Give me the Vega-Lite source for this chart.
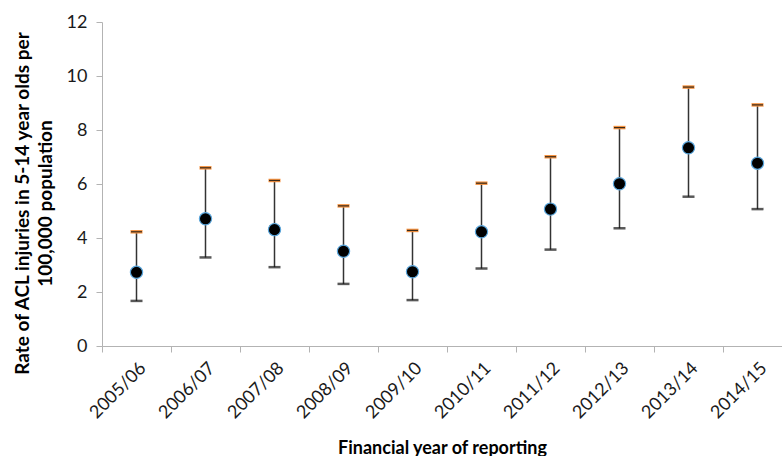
{
  "$schema": "https://vega.github.io/schema/vega-lite/v6.json",
  "autosize": "none",
  "width": 680,
  "height": 324,
  "padding": {"left": 102, "top": 22, "right": 0, "bottom": 110},
  "background": "white",
  "config": {
    "view": {"stroke": null},
    "font": "Lato",
    "axis": {"grid": false, "domainColor": "#b3b3b3", "tickColor": "#b3b3b3", "labelColor": "#1a1a1a", "titleColor": "#000000", "labelFont": "Lato", "titleFont": "Lato"}
  },
  "data": {
    "values": [
      {"year": "2005/06", "rate": 2.73, "lower": 1.67, "upper": 4.23},
      {"year": "2006/07", "rate": 4.71, "lower": 3.28, "upper": 6.6},
      {"year": "2007/08", "rate": 4.31, "lower": 2.92, "upper": 6.13},
      {"year": "2008/09", "rate": 3.51, "lower": 2.3, "upper": 5.19},
      {"year": "2009/10", "rate": 2.75, "lower": 1.7, "upper": 4.28},
      {"year": "2010/11", "rate": 4.23, "lower": 2.87, "upper": 6.03},
      {"year": "2011/12", "rate": 5.07, "lower": 3.57, "upper": 7.01},
      {"year": "2012/13", "rate": 6.01, "lower": 4.36, "upper": 8.09},
      {"year": "2013/14", "rate": 7.34, "lower": 5.53, "upper": 9.59},
      {"year": "2014/15", "rate": 6.77, "lower": 5.07, "upper": 8.93}
    ]
  },
  "encoding": {
    "x": {
      "field": "year", "type": "nominal", "sort": null,
      "scale": {"range": [0, 690], "paddingInner": 0, "paddingOuter": 0},
      "axis": {
        "title": "Financial year of reporting",
        "titleFontSize": 18, "titleFontWeight": "bold",
        "titleX": 340, "titleY": 107, "titleBaseline": "alphabetic", "titleAnchor": "middle",
        "labelAngle": -45, "labelFontSize": 18, "labelPadding": 7,
        "tickBand": "extent", "tickSize": 6
      }
    }
  },
  "layer": [
    {
      "mark": {"type": "rule", "color": "#333333", "strokeWidth": 1.5},
      "encoding": {
        "y": {
          "field": "lower", "type": "quantitative",
          "scale": {"domain": [0, 12]},
          "axis": {
            "values": [0, 2, 4, 6, 8, 10, 12],
            "title": ["Rate of ACL injuries in 5-14 year olds per", "100,000 population"],
            "titleFontSize": 19, "titleFontWeight": "bold",
            "titleAngle": -90, "titleX": -74, "titleY": 181, "titleAlign": "center",
            "titleBaseline": "alphabetic", "titleLineHeight": 23,
            "labelFontSize": 18, "labelPadding": 9, "tickSize": 6
          }
        },
        "y2": {"field": "upper"}
      }
    },
    {
      "mark": {"type": "tick", "color": "#111111", "thickness": 2.5, "size": 12},
      "encoding": {"y": {"field": "lower", "type": "quantitative"}}
    },
    {
      "mark": {"type": "tick", "color": "#f4913f", "thickness": 3.5, "size": 12, "opacity": 1},
      "encoding": {"y": {"field": "upper", "type": "quantitative"}}
    },
    {
      "mark": {"type": "tick", "color": "#3a2a1a", "thickness": 1.2, "size": 11, "opacity": 1},
      "encoding": {"y": {"field": "upper", "type": "quantitative"}}
    },
    {
      "mark": {"type": "point", "shape": "circle", "filled": true, "fill": "#000000", "stroke": "#5aa6dc", "strokeWidth": 1.2, "size": 150, "opacity": 1},
      "encoding": {"y": {"field": "rate", "type": "quantitative"}}
    }
  ]
}
